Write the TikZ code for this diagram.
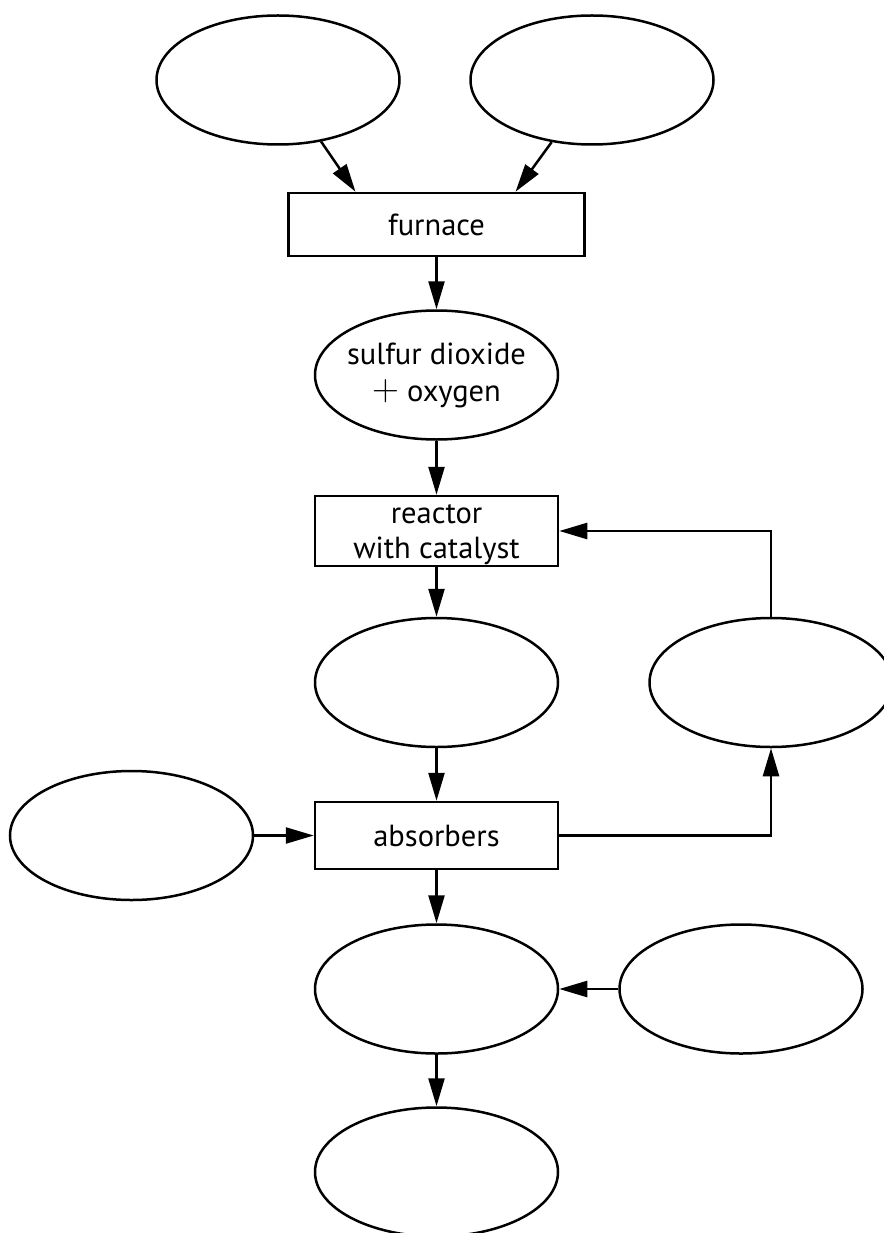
\documentclass[tikz,border=0pt]{standalone}
\usepackage{fontspec}
\setmainfont{PT Sans}
\usetikzlibrary{shapes.geometric,arrows.meta}
\tikzset{
  oval/.style={draw, ellipse, line width=2.5pt, minimum width=243pt, minimum height=129pt, inner xsep=-15pt, inner ysep=0pt, align=center},
  stepbox/.style={draw, rectangle, line width=2.5pt, minimum width=243pt, inner sep=0pt, align=center},
  conn/.style={line width=2.5pt, -{Triangle[length=28pt,width=16pt]}},
  lbl/.style={font=\fontsize{30.5pt}{37pt}\selectfont}
}
\begin{document}
\begin{tikzpicture}[x=1pt,y=-1pt]
\useasboundingbox (0,0) rectangle (883,1233);
\node[oval] (tl) at (278,80) {};
\node[oval] (tr) at (592,80) {};
\node[stepbox, lbl, minimum width=296pt, minimum height=63pt] (furn) at (436.5,224.5) {furnace};
\node[oval, lbl] (so2) at (436.5,375) {sulfur dioxide\\\raisebox{1pt}{\scalebox{1.5}{$+$}} oxygen};
\node[stepbox, font=\fontsize{30.5pt}{35pt}\selectfont, minimum height=70pt] (react) at (436.5,531) {\rule{0pt}{27pt}reactor\\with catalyst};
\node[oval] (e3) at (436.5,682.5) {};
\node[oval] (rc) at (771,682.5) {};
\node[stepbox, lbl, minimum height=67pt] (abs) at (436.5,835.5) {absorbers};
\node[oval] (lc) at (131.5,835.5) {};
\node[oval] (e4) at (436.5,989) {};
\node[oval] (rc2) at (741,989) {};
\node[oval] (e5) at (436.5,1172) {};

\draw[conn] (tl.-55) -- ([xshift=-81pt]furn.north);
\draw[conn] (tr.-123) -- ([xshift=79pt]furn.north);
\draw[conn] (furn.south) -- (so2.north);
\draw[conn] (so2.south) -- (react.north);
\draw[conn] (react.south) -- (e3.north);
\draw[conn] (e3.south) -- (abs.north);
\draw[conn] (abs.south) -- (e4.north);
\draw[conn] (e4.south) -- (e5.north);
\draw[conn] (lc.east) -- (abs.west);
\draw[conn] (rc2.west) -- (e4.east);
\draw[conn] (abs.east) -| (rc.south);
\draw[conn] (rc.north) |- (react.east);
\end{tikzpicture}
\end{document}
